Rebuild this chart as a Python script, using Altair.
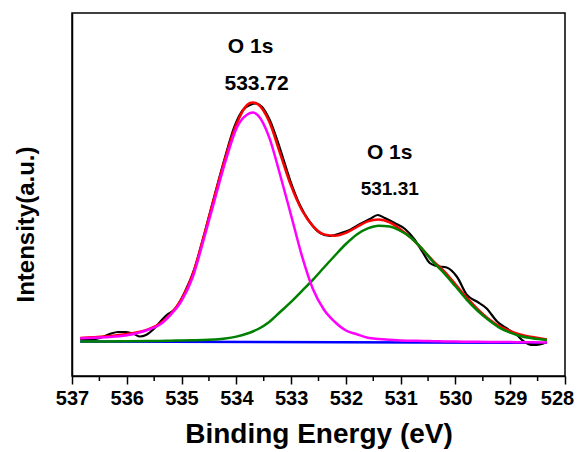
import altair as alt
import pandas as pd

# ---- data ----
# common energy grid (eV) for fitted curves
fit_energy = [536.85, 536.4, 536.0, 535.6, 535.4, 535.2, 535.0, 534.8, 534.6, 534.4,
              534.2, 534.0, 533.8, 533.7, 533.6, 533.4, 533.2, 533.0, 532.8, 532.6,
              532.4, 532.2, 532.0, 531.8, 531.6, 531.4, 531.2, 531.0, 530.8, 530.6,
              530.4, 530.2, 530.0, 529.8, 529.6, 529.4, 529.2, 529.0, 528.8, 528.6,
              528.33]
# envelope (red)
fit_envelope = [38.1, 39.6, 42.0, 46.9, 52.3, 62.0, 76.9, 101.0, 138.4, 179.1,
                218.4, 251.5, 271.3, 273.5, 271.4, 254.4, 222.4, 190.1, 165.5, 149.9,
                141.6, 140.2, 143.1, 149.0, 154.6, 156.4, 153.6, 146.5, 137.7, 126.4,
                114.7, 104.4, 91.7, 78.8, 67.1, 57.3, 49.9, 44.9, 41.2, 38.9,
                36.5]
# peak 1 (magenta), 533.72 eV
fit_peak1 = [37.7, 38.7, 40.7, 46.5, 51.3, 61.2, 75.2, 98.2, 135.5, 175.2,
             214.3, 247.4, 261.5, 263.4, 260.3, 238.6, 201.0, 160.6, 119.6, 86.7,
             66.2, 54.0, 45.5, 41.8, 38.3, 37.1, 36.3, 35.5, 35.3, 35.0,
             34.8, 34.6, 34.4, 34.3, 34.2, 34.1, 34.0, 33.9, 33.8, 33.7,
             33.5]
# peak 2 (green), 531.31 eV
fit_peak2 = [34.5, 34.6, 34.8, 35.0, 35.1, 35.3, 35.5, 35.7, 35.9, 36.5,
             37.5, 39.4, 42.5, 44.5, 47.0, 54.0, 64.0, 74.2, 85.2, 96.4,
             108.5, 120.5, 132.0, 141.6, 147.6, 150.3, 149.5, 145.0, 137.8, 126.6,
             113.6, 102.4, 89.7, 76.7, 65.5, 56.2, 48.4, 43.3, 39.7, 37.7,
             36.0]
# background (blue)
bg_energy = [536.85, 528.33]
bg_value = [34.5, 33.2]

# raw spectrum (black)
raw_energy = [536.85, 536.67, 536.49, 536.31, 536.16, 536.01, 535.87, 535.76, 535.65, 535.49,
              535.36, 535.27, 535.12, 534.94, 534.76, 534.57, 534.39, 534.21, 534.03, 533.88,
              533.75, 533.64, 533.53, 533.39, 533.20, 533.02, 532.84, 532.66, 532.47, 532.29,
              532.11, 531.93, 531.74, 531.56, 531.42, 531.29, 531.11, 530.92, 530.74, 530.59,
              530.47, 530.34, 530.16, 529.97, 529.79, 529.61, 529.43, 529.24, 529.06, 528.88,
              528.75, 528.59, 528.46, 528.33]
raw_value = [37.0, 36.5, 38.0, 42.0, 44.0, 44.0, 42.0, 39.5, 41.0, 48.0,
             56.0, 61.0, 67.0, 84.0, 108.0, 145.0, 182.0, 218.0, 250.0, 266.0,
             271.0, 272.5, 269.0, 256.0, 227.0, 196.0, 171.0, 154.0, 143.0, 140.0,
             142.5, 146.0, 152.0, 157.0, 161.0, 158.0, 153.0, 147.0, 136.0, 123.0,
             113.0, 110.0, 108.5, 99.0, 81.0, 74.5, 67.5, 54.5, 47.5, 41.0,
             34.5, 31.0, 31.5, 34.0]

major_ticks = [528, 529, 530, 531, 532, 533, 534, 535, 536, 537]
minor_ticks = [528.5, 529.5, 530.5, 531.5, 532.5, 533.5, 534.5, 535.5, 536.5]

ann_text = ["O 1s", "533.72", "O 1s", "531.31"]
ann_energy = [533.74, 533.63, 531.20, 531.20]
ann_value = [328.7, 292.0, 222.7, 187.3]
ann_size = [21, 21, 21, 19]

FONT = "Liberation Sans"
W, H = 493, 363

xscale = alt.Scale(domain=[528, 537], reverse=True, nice=False, zero=False)
yscale = alt.Scale(domain=[0, 363], nice=False, zero=False)

xaxis = alt.Axis(values=major_ticks, format="d", title="Binding Energy (eV)",
                 labelFont=FONT, labelFontSize=20, labelFontWeight="bold", labelColor="black",
                 titleFont=FONT, titleFontSize=28, titleFontWeight="bold", titleColor="black",
                 tickSize=8, tickWidth=1.5, tickColor="black", domainColor="black",
                 domainWidth=1.5, labelPadding=4, titlePadding=12, grid=False,
                 labelFlush=False, labelOverlap=False,
                 labelOffset={"condition": {"test": "datum.value == 528", "value": -8},
                              "value": 0})
yaxis = alt.Axis(title="Intensity(a.u.)", labels=False, ticks=False, grid=False,
                 titleFont=FONT, titleFontSize=24, titleFontWeight="bold", titleColor="black",
                 domainColor="black", domainWidth=1.5, titlePadding=34, titleY=211)

def curve(energy, values, color, width):
    df = pd.DataFrame({"E": energy, "I": values})
    return alt.Chart(df).mark_line(color=color, strokeWidth=width, interpolate="monotone").encode(
        x=alt.X("E:Q", scale=xscale, axis=xaxis),
        y=alt.Y("I:Q", scale=yscale, axis=yaxis),
    )

blue = curve(bg_energy, bg_value, "#0000FF", 2.5)
black = curve(raw_energy, raw_value, "#000000", 2.2)
red = curve(fit_energy, fit_envelope, "#FF0000", 2.5)
green = curve(fit_energy, fit_peak2, "#008000", 2.5)
magenta = curve(fit_energy, fit_peak1, "#FF00FF", 2.5)

minor = alt.Chart(pd.DataFrame({"E": minor_ticks})).mark_rule(
    color="black", strokeWidth=1.5).encode(
    x=alt.X("E:Q", scale=xscale, axis=xaxis),
    y=alt.value(H), y2=alt.value(H + 5))

ann_df = pd.DataFrame({"t": ann_text, "E": ann_energy, "I": ann_value, "s": ann_size})
ann = alt.Chart(ann_df).mark_text(font=FONT, fontWeight="bold", color="black",
                                  baseline="middle", align="center").encode(
    x=alt.X("E:Q", scale=xscale, axis=xaxis),
    y=alt.Y("I:Q", scale=yscale, axis=yaxis),
    text="t:N",
    size=alt.Size("s:Q", scale=None, legend=None),
)

chart = alt.layer(blue, black, red, green, magenta, minor, ann).properties(
    width=W, height=H,
    autosize=alt.AutoSizeParams(type="none"),
    padding={"left": 64, "top": 5, "right": 9, "bottom": 75},
    background="white",
).configure_view(stroke="black", strokeWidth=1.5)

chart.save("out.html", embed_options={"renderer": "svg", "actions": False})
